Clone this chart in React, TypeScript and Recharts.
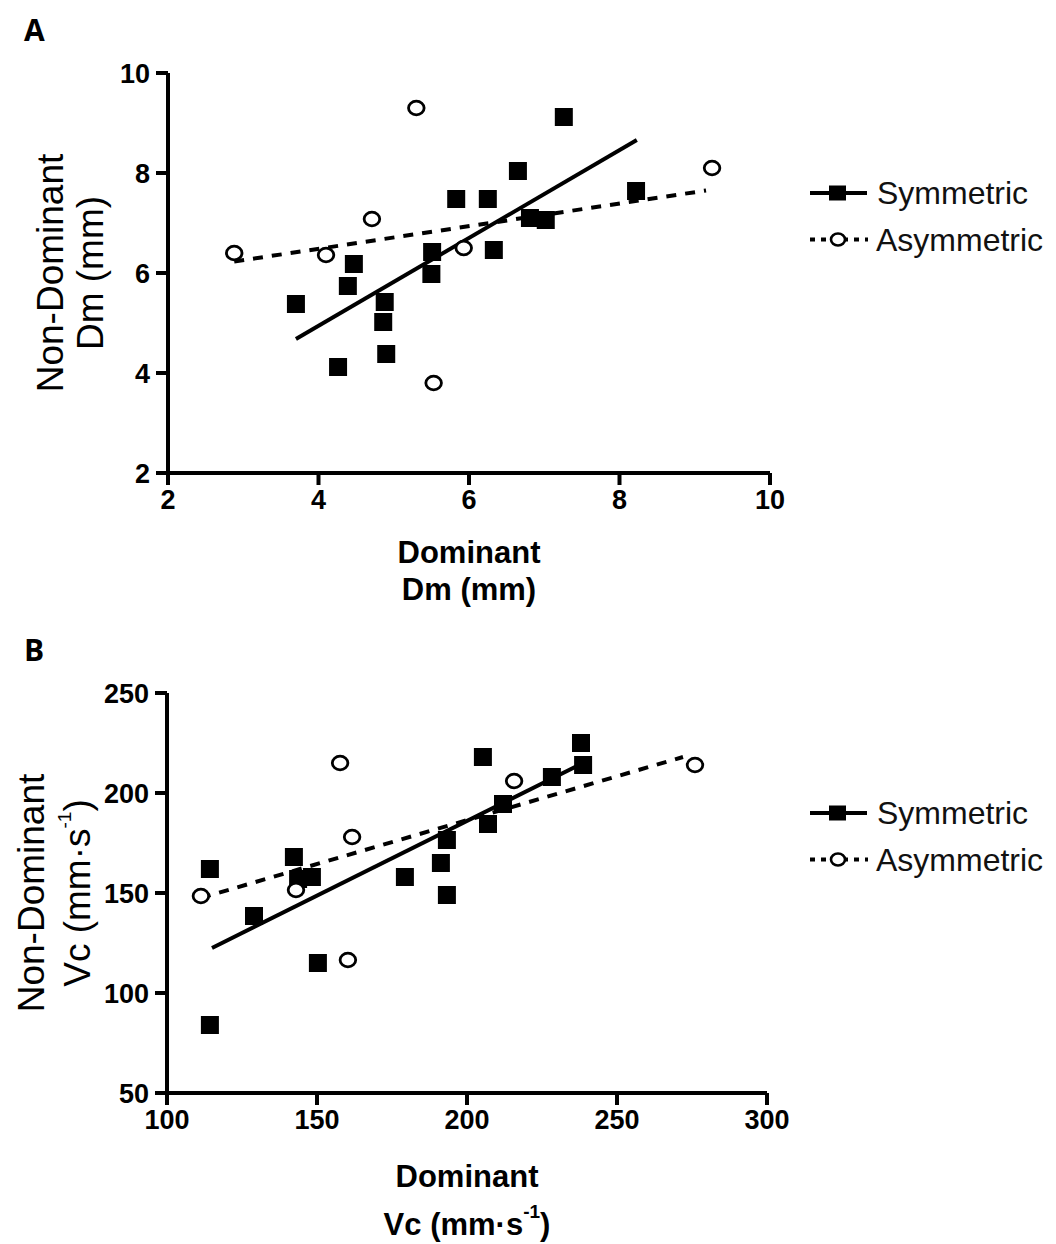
import React from 'react';
import { ScatterChart, Scatter, XAxis, YAxis, ReferenceLine, Legend } from 'recharts';

// Panel A – Dm (mm)
const symA_x = [3.7, 4.26, 4.39, 4.47, 4.86, 4.88, 4.9, 5.5, 5.51, 5.83, 6.25, 6.33, 6.65, 6.81, 7.02, 7.26, 8.22];
const symA_y = [5.38, 4.12, 5.74, 6.18, 5.02, 5.42, 4.38, 5.98, 6.42, 7.48, 7.48, 6.46, 8.04, 7.1, 7.06, 9.12, 7.64];
const asymA_x = [2.88, 4.1, 4.71, 5.3, 5.53, 5.93, 9.23];
const asymA_y = [6.4, 6.36, 7.08, 9.3, 3.8, 6.5, 8.1];
const fitSymA_x = [3.7, 8.23];
const fitSymA_y = [4.68, 8.66];
const fitAsymA_x = [2.88, 9.15];
const fitAsymA_y = [6.23, 7.65];
const ticksA_x = [2, 4, 6, 8, 10];
const ticksA_y = [2, 4, 6, 8, 10];

// Panel B – Vc (mm·s-1)
const symB_x = [114.3, 114.3, 129, 142.3, 143.7, 148.3, 150.3, 179.3, 191.3, 193.3, 193.3, 205.3, 207, 212, 228.3, 238, 238.7];
const symB_y = [162, 84, 138.5, 168, 157, 158, 115, 158, 165, 149, 176.5, 218, 184.5, 194.5, 208, 225, 214];
const asymB_x = [111.3, 143, 157.7, 160.3, 161.7, 215.7, 276];
const asymB_y = [148.5, 151.5, 215, 116.5, 178, 206, 214];
const fitSymB_x = [115, 238.7];
const fitSymB_y = [122.5, 215];
const fitAsymB_x = [111.3, 272];
const fitAsymB_y = [147.5, 218];
const ticksB_x = [100, 150, 200, 250, 300];
const ticksB_y = [50, 100, 150, 200, 250];

const seriesNames = ['Symmetric', 'Asymmetric'];

const FONT = '"Liberation Sans", Arial, sans-serif';

const toPoints = (xs: number[], ys: number[]) => xs.map((x, i) => ({ x, y: ys[i] }));

const Square = (props: any) => (
  <rect x={props.cx - 9} y={props.cy - 9} width={18} height={18} fill="#000" />
);

const OpenCircle = (props: any) => (
  <ellipse cx={props.cx} cy={props.cy} rx={7.8} ry={6.8} fill="#fff" stroke="#000" strokeWidth={2.8} />
);

const UnitText = ({ base, sup }: { base: string; sup?: string }) => (
  <>
    {base}
    {sup && (
      <>
        <tspan dy={-13} fontSize={19}>{sup}</tspan>
        <tspan dy={13}>)</tspan>
      </>
    )}
  </>
);

const LegendBox = ({ gap }: { gap: number }) => (
  <svg width={250} height={100} style={{ display: 'block' }}>
    <g transform="translate(0,25)">
      <line x1={4} x2={61} y1={0} y2={0} stroke="#000" strokeWidth={4} />
      <rect x={23} y={-7.5} width={17} height={15} fill="#000" />
      <text x={71} y={0} dominantBaseline="central" fontSize={32} fontFamily={FONT} fill="#111">
        {seriesNames[0]}
      </text>
    </g>
    <g transform={`translate(0,${25 + gap})`}>
      <line x1={4} x2={62} y1={0} y2={0} stroke="#000" strokeWidth={4} strokeDasharray="5 6" />
      <ellipse cx={32} cy={0} rx={7} ry={6} fill="#fff" stroke="#000" strokeWidth={2.6} />
      <text x={70} y={0} dominantBaseline="central" fontSize={32} fontFamily={FONT} fill="#111">
        {seriesNames[1]}
      </text>
    </g>
  </svg>
);

interface PanelProps {
  letter: string;
  height: number;
  margin: { top: number; right: number; bottom: number; left: number };
  sym: { x: number; y: number }[];
  asym: { x: number; y: number }[];
  fitSym: { x: number; y: number }[];
  fitAsym: { x: number; y: number }[];
  xDomain: [number, number];
  yDomain: [number, number];
  xTicks: number[];
  yTicks: number[];
  xTitle: [string, string, string?];
  yTitle: [string, string, string?];
  xTitleDy: [number, number];
  yTitleDx: [number, number];
  legendGap: number;
}

function Panel(p: PanelProps) {
  const tick = { fill: '#000', fontSize: 27, fontWeight: 'bold', fontFamily: FONT };
  const axisLine = { stroke: '#000', strokeWidth: 4 };

  const xLabel = (lp: any) => {
    const vb = lp.viewBox;
    const cx = vb.x + vb.width / 2;
    return (
      <g fontFamily={FONT} fontWeight="bold" fontSize={31} fill="#000">
        <text x={cx} y={vb.y + p.xTitleDy[0]} textAnchor="middle" dominantBaseline="central">
          {p.xTitle[0]}
        </text>
        <text x={cx} y={vb.y + p.xTitleDy[1]} textAnchor="middle" dominantBaseline="central">
          <UnitText base={p.xTitle[1]} sup={p.xTitle[2]} />
        </text>
      </g>
    );
  };

  const yLabel = (lp: any) => {
    const vb = lp.viewBox;
    const ax = vb.x + vb.width;
    const cy = vb.y + vb.height / 2;
    return (
      <g fontFamily={FONT} fontSize={37} fill="#000">
        <text
          x={ax + p.yTitleDx[0]}
          y={cy}
          textAnchor="middle"
          dominantBaseline="central"
          transform={`rotate(-90, ${ax + p.yTitleDx[0]}, ${cy})`}
        >
          {p.yTitle[0]}
        </text>
        <text
          x={ax + p.yTitleDx[1]}
          y={cy}
          textAnchor="middle"
          dominantBaseline="central"
          transform={`rotate(-90, ${ax + p.yTitleDx[1]}, ${cy})`}
        >
          <UnitText base={p.yTitle[1]} sup={p.yTitle[2]} />
        </text>
      </g>
    );
  };

  return (
    <div style={{ position: 'relative', width: 1056, height: p.height }}>
      <div
        style={{
          position: 'absolute',
          left: 24,
          top: 12,
          fontFamily: '"Open Sans", sans-serif',
          fontWeight: 700,
          fontSize: 30,
          lineHeight: '36px',
          color: '#000',
          zIndex: 2,
        }}
      >
        {p.letter}
      </div>
      <ScatterChart width={1056} height={p.height} margin={p.margin}>
        <XAxis
          type="number"
          dataKey="x"
          domain={p.xDomain}
          ticks={p.xTicks}
          interval={0}
          allowDataOverflow
          height={30}
          tick={tick}
          tickSize={12}
          tickMargin={5}
          axisLine={axisLine}
          tickLine={axisLine}
          label={xLabel}
        />
        <YAxis
          type="number"
          dataKey="y"
          domain={p.yDomain}
          ticks={p.yTicks}
          interval={0}
          allowDataOverflow
          width={60}
          tick={tick}
          tickSize={12}
          tickMargin={6}
          axisLine={axisLine}
          tickLine={axisLine}
          label={yLabel}
        />
        <ReferenceLine
          segment={p.fitSym}
          stroke="#000"
          strokeWidth={4}
          ifOverflow="visible"
        />
        <ReferenceLine
          segment={p.fitAsym}
          stroke="#000"
          strokeWidth={4}
          strokeDasharray="10 9"
          ifOverflow="visible"
        />
        <Scatter name={seriesNames[0]} data={p.sym} shape={Square} isAnimationActive={false} />
        <Scatter name={seriesNames[1]} data={p.asym} shape={OpenCircle} isAnimationActive={false} />
        <Legend
          layout="horizontal"
          verticalAlign="middle"
          align="center"
          content={() => <LegendBox gap={p.legendGap} />}
          wrapperStyle={{ left: 806, top: 168, width: 250, height: 100 }}
        />
      </ScatterChart>
    </div>
  );
}

export default function App() {
  return (
    <div style={{ position: 'absolute', left: 0, top: 0, width: 1056, height: 1244, background: '#fff' }}>
      <Panel
        letter="A"
        height={620}
        margin={{ top: 73, right: 286, bottom: 117, left: 108 }}
        sym={toPoints(symA_x, symA_y)}
        asym={toPoints(asymA_x, asymA_y)}
        fitSym={toPoints(fitSymA_x, fitSymA_y)}
        fitAsym={toPoints(fitAsymA_x, fitAsymA_y)}
        xDomain={[2, 10]}
        yDomain={[2, 10]}
        xTicks={ticksA_x}
        yTicks={ticksA_y}
        xTitle={['Dominant', 'Dm (mm)']}
        yTitle={['Non-Dominant', 'Dm (mm)']}
        xTitleDy={[79, 116]}
        yTitleDx={[-118, -78]}
        legendGap={46.5}
      />
      <Panel
        letter="B"
        height={624}
        margin={{ top: 73, right: 289, bottom: 121, left: 107 }}
        sym={toPoints(symB_x, symB_y)}
        asym={toPoints(asymB_x, asymB_y)}
        fitSym={toPoints(fitSymB_x, fitSymB_y)}
        fitAsym={toPoints(fitAsymB_x, fitAsymB_y)}
        xDomain={[100, 300]}
        yDomain={[50, 250]}
        xTicks={ticksB_x}
        yTicks={ticksB_y}
        xTitle={['Dominant', 'Vc (mm·s', '-1']}
        yTitle={['Non-Dominant', 'Vc (mm·s', '-1']}
        xTitleDy={[83, 131]}
        yTitleDx={[-136, -90]}
        legendGap={46.5}
      />
    </div>
  );
}
